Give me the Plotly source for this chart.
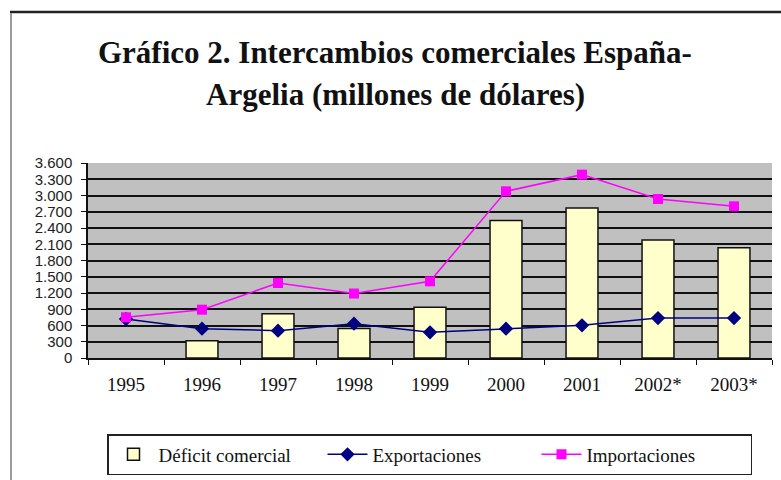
import plotly.graph_objects as go

years = ["1995", "1996", "1997", "1998", "1999", "2000", "2001", "2002*", "2003*"]
deficit = [None, 320, 818, 545, 935, 2540, 2770, 2180, 2035]
exportaciones = [720, 541, 505, 634, 474, 541, 603, 738, 738]
importaciones = [751, 892, 1385, 1190, 1415, 3077, 3385, 2935, 2800]
ytick_vals = list(range(0, 3601, 300))
ytick_text = ["0", "300", "600", "900", "1.200", "1.500", "1.800", "2.100", "2.400", "2.700", "3.000", "3.300", "3.600"]

W, H = 781, 480
L, R, T, B = 88, 772, 163, 358

def px(x):
    return (x - L) / (R - L)

def py(y):
    return (B - y) / (B - T)

fig = go.Figure()
fig.add_trace(go.Bar(
    x=years, y=deficit, name="Déficit comercial",
    marker=dict(color="#FFFFCC", line=dict(color="#111111", width=1.5)),
))
fig.add_trace(go.Scatter(
    x=years, y=exportaciones, name="Exportaciones", mode="lines+markers",
    line=dict(color="#000080", width=1.5),
    marker=dict(symbol="diamond", size=11, color="#000080"),
))
fig.add_trace(go.Scatter(
    x=years, y=importaciones, name="Importaciones", mode="lines+markers",
    line=dict(color="#FF00FF", width=1.5),
    marker=dict(symbol="square", size=10, color="#FF00FF"),
))

fig.update_layout(
    width=W, height=H,
    margin=dict(l=L, r=W - R, t=T, b=H - B, pad=0, autoexpand=False),
    paper_bgcolor="white",
    plot_bgcolor="#C0C0C0",
    bargap=0.58,
    showlegend=True,
    legend=dict(
        orientation="h", x=px(107), y=py(434), xanchor="left", yanchor="top",
        bordercolor="#222222", borderwidth=1.5, bgcolor="white",
        font=dict(family="Liberation Serif", size=19, color="#111111"),
        itemwidth=40, tracegroupgap=0, entrywidth=159, entrywidthmode="pixels",
    ),
    xaxis=dict(
        type="category", showgrid=False, showline=True, linecolor="#111111", linewidth=1.5,
        ticks="outside", tickson="boundaries", ticklen=5, tickcolor="#111111",
        tickfont=dict(family="Liberation Serif", size=19, color="#111111"),
        range=[-0.5, 8.5], automargin=False, ticklabelstandoff=8,
    ),
    yaxis=dict(
        range=[0, 3600], tickvals=ytick_vals, ticktext=ytick_text,
        showgrid=True, gridcolor="#111111", gridwidth=1.5,
        showline=True, linecolor="#111111", linewidth=1.5,
        ticks="outside", ticklen=5, tickcolor="#111111",
        tickfont=dict(family="Liberation Sans", size=15, color="#222222"),
        zeroline=False, automargin=False, ticklabelstandoff=6,
    ),
    annotations=[
        dict(text="<b>Gráfico 2. Intercambios comerciales España-</b>", xref="paper", yref="paper",
             x=px(395), y=py(52), xanchor="center", yanchor="middle", showarrow=False,
             font=dict(family="Liberation Serif", size=31, color="#111111")),
        dict(text="<b>Argelia (millones de dólares)</b>", xref="paper", yref="paper",
             x=px(395), y=py(95), xanchor="center", yanchor="middle", showarrow=False,
             font=dict(family="Liberation Serif", size=31, color="#111111")),
    ],
    shapes=[
        dict(type="line", xref="paper", yref="paper", x0=px(10), x1=px(781), y0=py(12), y1=py(12),
             line=dict(color="#222222", width=2.5)),
        dict(type="line", xref="paper", yref="paper", x0=px(11), x1=px(11), y0=py(13), y1=py(480),
             line=dict(color="#9A9A9A", width=2)),
    ],
)

fig.write_html("out.html", config={"displayModeBar": False})

with open("out.html", "r", encoding="utf-8") as f:
    html = f.read()
html = html.replace("<head>", "<head><style>html,body{margin:0;padding:0;overflow:hidden;}</style>", 1)
with open("out.html", "w", encoding="utf-8") as f:
    f.write(html)
